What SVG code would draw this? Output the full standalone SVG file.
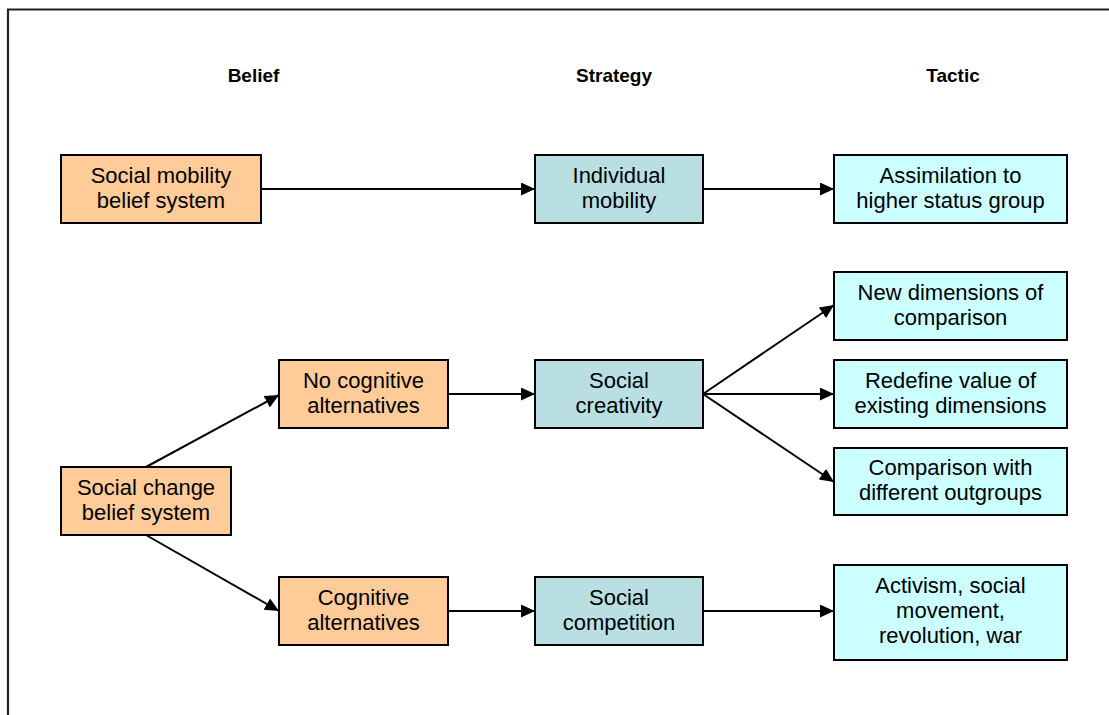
<svg xmlns="http://www.w3.org/2000/svg" width="1109" height="715" viewBox="0 0 1109 715">
<defs>
<marker id="arr" markerUnits="userSpaceOnUse" markerWidth="16" markerHeight="14" refX="14" refY="6.5" orient="auto">
<path d="M0,0 L14,6.5 L0,13 Z" fill="#000"/>
</marker>
<style>
.box{stroke:#000;stroke-width:2}
.bel{fill:#FFCC99}
.str{fill:#B9DFE2}
.tac{fill:#CCFFFF}
text{font-family:"Liberation Sans",Arial,Helvetica,sans-serif;fill:#000}
.t{font-size:22px;text-anchor:middle}
.h{font-size:19px;font-weight:bold;text-anchor:middle}
.c{stroke:#000;stroke-width:2;fill:none;marker-end:url(#arr)}
</style>
</defs>
<rect width="1109" height="715" fill="#fff"/>
<path d="M8,716 V9.5 H1110" fill="none" stroke="#222" stroke-width="2.2"/>
<g id="headers">
<text class="h" x="253.5" y="82">Belief</text>
<text class="h" x="614" y="82">Strategy</text>
<text class="h" x="953" y="82">Tactic</text>
</g>
<g id="connectors">
<line class="c" x1="261" y1="189" x2="535" y2="189"/>
<line class="c" x1="703" y1="189" x2="834" y2="189"/>
<line class="c" x1="146" y1="467" x2="279" y2="395"/>
<line class="c" x1="146" y1="535" x2="279" y2="611"/>
<line class="c" x1="448" y1="394" x2="535" y2="394"/>
<line class="c" x1="448" y1="611" x2="535" y2="611"/>
<line class="c" x1="703" y1="394" x2="834" y2="305"/>
<line class="c" x1="703" y1="394" x2="834" y2="394"/>
<line class="c" x1="703" y1="394" x2="834" y2="482"/>
<line class="c" x1="703" y1="611" x2="834" y2="611"/>
</g>
<g id="social-mobility">
<rect class="box bel" x="61" y="155" width="200" height="68"/>
<text class="t" x="161" y="183">Social mobility</text>
<text class="t" x="161" y="208">belief system</text>
</g>
<g id="individual-mobility">
<rect class="box str" x="535" y="155" width="168" height="68"/>
<text class="t" x="619" y="183">Individual</text>
<text class="t" x="619" y="208">mobility</text>
</g>
<g id="assimilation">
<rect class="box tac" x="834" y="155" width="233" height="68"/>
<text class="t" x="950.5" y="183">Assimilation to</text>
<text class="t" x="950.5" y="208">higher status group</text>
</g>
<g id="new-dimensions">
<rect class="box tac" x="834" y="272" width="233" height="68"/>
<text class="t" x="950.5" y="300">New dimensions of</text>
<text class="t" x="950.5" y="325">comparison</text>
</g>
<g id="no-cognitive">
<rect class="box bel" x="279" y="360" width="169" height="68"/>
<text class="t" x="363.5" y="388">No cognitive</text>
<text class="t" x="363.5" y="413">alternatives</text>
</g>
<g id="social-creativity">
<rect class="box str" x="535" y="360" width="168" height="68"/>
<text class="t" x="619" y="388">Social</text>
<text class="t" x="619" y="413">creativity</text>
</g>
<g id="redefine">
<rect class="box tac" x="834" y="360" width="233" height="68"/>
<text class="t" x="950.5" y="388">Redefine value of</text>
<text class="t" x="950.5" y="413">existing dimensions</text>
</g>
<g id="comparison">
<rect class="box tac" x="834" y="448" width="233" height="67"/>
<text class="t" x="950.5" y="475">Comparison with</text>
<text class="t" x="950.5" y="500">different outgroups</text>
</g>
<g id="social-change">
<rect class="box bel" x="61" y="467" width="170" height="68"/>
<text class="t" x="146" y="495">Social change</text>
<text class="t" x="146" y="520">belief system</text>
</g>
<g id="cognitive">
<rect class="box bel" x="279" y="577" width="169" height="68"/>
<text class="t" x="363.5" y="605">Cognitive</text>
<text class="t" x="363.5" y="630">alternatives</text>
</g>
<g id="social-competition">
<rect class="box str" x="535" y="577" width="168" height="68"/>
<text class="t" x="619" y="605">Social</text>
<text class="t" x="619" y="630">competition</text>
</g>
<g id="activism">
<rect class="box tac" x="834" y="565" width="233" height="95"/>
<text class="t" x="950.5" y="593">Activism, social</text>
<text class="t" x="950.5" y="618">movement,</text>
<text class="t" x="950.5" y="643">revolution, war</text>
</g>
</svg>
